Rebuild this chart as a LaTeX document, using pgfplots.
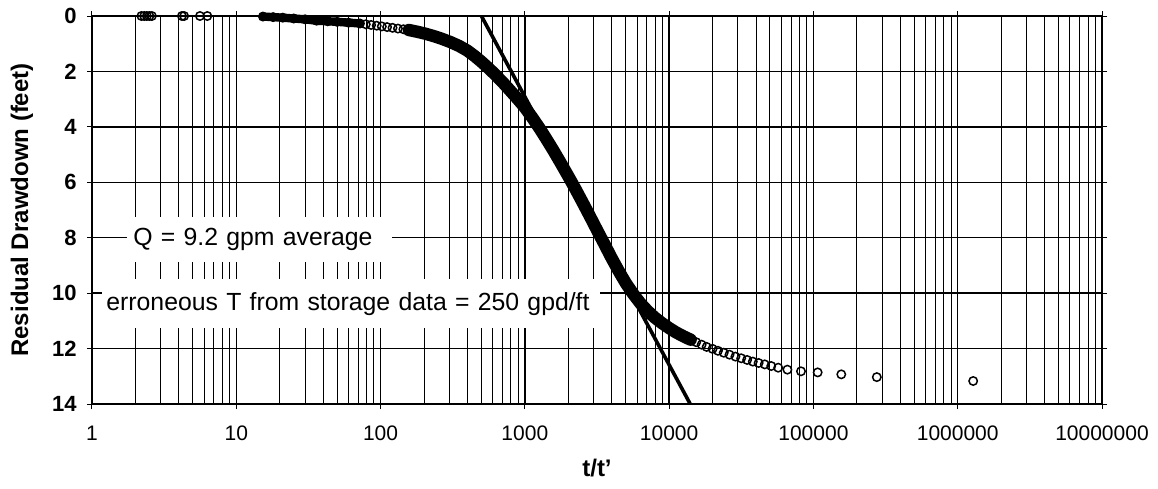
\documentclass[border=0pt]{standalone}
\usepackage{fontspec}
\setmainfont{Liberation Sans}
\usepackage{pgfplots}
\usepackage{pgfplotstable}
\pgfplotsset{compat=1.18}

% residual drawdown (ft) against t/t'
\pgfplotstableread{
t s
2.2 0
2.3 0
2.4 0
2.5 0
2.6 0
4.2 0
4.35 0
5.6 0
6.3 0
}\earlypts

\pgfplotstableread{
t s
15.3 0.02
18 0.04
21 0.06
25 0.09
30 0.12
36 0.17
43 0.19
50 0.21
60 0.24
72 0.27
}\bandA

\pgfplotstableread{
t s
79 0.298
86 0.323
94 0.35
102 0.375
111 0.40
121 0.426
132 0.453
144 0.478
}\chain

\pgfplotstableread{
t s
157 0.505
180 0.57
205 0.64
235 0.73
265 0.82
305 0.94
350 1.08
400 1.25
450 1.45
500 1.65
560 1.88
630 2.14
710 2.42
800 2.72
900 3.02
1000 3.30
1120 3.65
1260 4.04
1410 4.44
1580 4.86
1780 5.32
2000 5.78
2240 6.24
2510 6.72
2820 7.22
3160 7.72
3550 8.22
3980 8.72
4470 9.20
5010 9.64
5620 10.02
6310 10.36
7080 10.64
7940 10.88
8910 11.08
10000 11.26
11200 11.42
12600 11.56
14100 11.68
}\bandB

\pgfplotstableread{
t s
15400 11.77
16800 11.86
18200 11.94
20000 12.01
21800 12.08
23900 12.15
26200 12.22
28800 12.29
31600 12.35
34700 12.41
38000 12.47
41700 12.52
46000 12.57
51000 12.63
57000 12.69
66000 12.76
82000 12.82
107000 12.86
156000 12.93
275000 13.03
1280000 13.17
}\tailpts

% straight-line fit used for T
\pgfplotstableread{
t s
500 0
14000 14
}\fitline

\begin{document}
\begin{tikzpicture}
\begin{axis}[
  name=ax,
  scale only axis,
  width=505pt, height=194pt,
  xmode=log, xmin=1, xmax=1e7,
  ymin=0, ymax=14, y dir=reverse,
  xtick={1,10,100,1000,10000,100000,1000000,10000000},
  xticklabels={1,10,100,1000,10000,100000,1000000,10000000},
  ytick={0,2,4,6,8,10,12,14},
  yticklabels={0,2,4,6,8,10,12,14},
  xmajorgrids, xminorgrids, ymajorgrids,
  major grid style={black, line width=0.65pt},
  minor grid style={black, line width=0.5pt},
  axis line style={black, line width=0.9pt},
  tick align=outside,
  major tick length=2.5pt,
  minor tick length=0pt,
  tick style={black, line width=0.5pt},
  xticklabel style={font=\fontsize{10.5}{12}\selectfont, anchor=center, yshift=-12pt},
  yticklabel style={font=\bfseries\fontsize{11}{13}\selectfont, anchor=east, inner sep=0pt, xshift=-5pt},
  every mark/.append style={solid},
  clip=false,
]
\addplot[black, line width=4.2pt, line cap=round, line join=round] table[x=t,y=s] {\bandA};
\addplot[black, line width=6.2pt, line cap=round, line join=round] table[x=t,y=s] {\bandB};
\addplot[black, line width=1.8pt] table[x=t,y=s] {\fitline};
\addplot[only marks, mark=o, mark size=2.1pt, mark options={black, line width=0.75pt}] table[x=t,y=s] {\earlypts};
\addplot[only marks, mark=o, mark size=2.1pt, mark options={black, line width=0.75pt}] table[x=t,y=s] {\bandA};
\addplot[only marks, mark=o, mark size=2.1pt, mark options={black, line width=0.75pt}] table[x=t,y=s] {\chain};
\addplot[only marks, mark=o, mark size=2.1pt, mark options={black, line width=0.75pt}] table[x=t,y=s] {\bandB};
\addplot[only marks, mark=o, mark size=2.1pt, mark options={black, line width=0.75pt}] table[x=t,y=s] {\tailpts};

\node[anchor=west, fill=white, inner xsep=3pt, inner ysep=0pt, text width=126.5pt, minimum height=22.5pt, align=left, font=\fontsize{12.4}{14}\selectfont] at (axis cs:1.748,8.07) {Q = 9.2 gpm average};
\node[anchor=west, fill=white, inner xsep=2pt, inner ysep=0pt, text width=245pt, minimum height=24.5pt, align=left, font=\fontsize{12.4}{14}\selectfont] at (axis cs:1.173,10.38) {erroneous T from storage data = 250 gpd/ft};
\end{axis}
\node[font=\bfseries\fontsize{12}{14}\selectfont, rotate=90] at ([xshift=-35pt]ax.west) {Residual Drawdown (feet)};
\node[font=\bfseries\fontsize{12}{14}\selectfont] at ([yshift=-32pt]ax.south) {t/t{\char"0027}};
\path ([xshift=-46pt,yshift=-42pt]ax.south west) rectangle ([xshift=28pt,yshift=8pt]ax.north east);
\end{tikzpicture}
\end{document}
